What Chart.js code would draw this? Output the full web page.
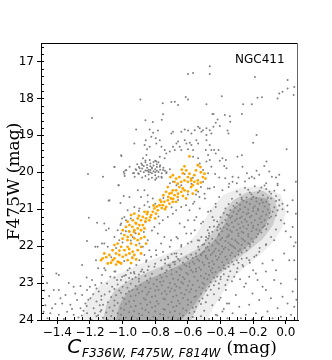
<!DOCTYPE html>
<html>
<head>
<meta charset="utf-8">
<script src="https://cdn.jsdelivr.net/npm/chart.js@4.4.1/dist/chart.umd.min.js"></script>
<style>
  html, body { margin: 0; padding: 0; background: #fff; }
  #wrap { width: 332px; height: 360px; position: relative; }
</style>
</head>
<body>
<div id="wrap"><canvas id="cmd"></canvas></div>
<script>
// ----------------------------
// Data
// ----------------------------
const clusterName = "NGC411";
const xTicks = [-1.4, -1.2, -1.0, -0.8, -0.6, -0.4, -0.2, 0.0];
const xTickLabels = ["\u22121.4", "\u22121.2", "\u22121.0", "\u22120.8", "\u22120.6", "\u22120.4", "\u22120.2", "0.0"];
const yTicks = [17, 18, 19, 20, 21, 22, 23, 24];

// highlighted stars (x, y pairs)
const orangeStars = [
  -0.590,19.57, -0.621,19.84, -0.637,19.93, -0.590,20.04, -0.539,19.81, -0.523,19.86, -0.498,20.04, -0.508,20.13,
  -0.492,20.17, -0.560,20.08, -0.600,20.13, -0.652,20.13, -0.672,20.17, -0.692,20.08, -0.707,20.13, -0.682,20.26,
  -0.662,20.31, -0.641,20.26, -0.621,20.22, -0.600,20.26, -0.580,20.22, -0.560,20.26, -0.539,20.22, -0.652,20.40,
  -0.631,20.44, -0.621,20.49, -0.672,20.49, -0.692,20.49, -0.723,20.40, -0.733,20.53, -0.713,20.58, -0.682,20.62,
  -0.641,20.53, -0.580,20.40, -0.549,20.49, -0.539,20.31, -0.570,20.58, -0.611,20.71, -0.662,20.67, -0.703,20.71,
  -0.723,20.76, -0.744,20.80, -0.764,20.80, -0.774,20.89, -0.754,20.89, -0.733,20.94, -0.713,20.85, -0.692,20.80,
  -0.672,20.80, -0.784,21.03, -0.805,20.98, -0.815,21.07, -0.795,21.12, -0.825,21.16, -0.846,21.07, -0.866,21.07,
  -0.876,21.21, -0.856,21.25, -0.836,21.30, -0.887,21.30, -0.907,21.25, -0.928,21.12, -0.948,21.16, -0.938,21.30,
  -0.917,21.39, -0.897,21.43, -0.876,21.43, -0.866,21.52, -0.887,21.57, -0.907,21.52, -0.928,21.57, -0.958,21.43,
  -0.969,21.34, -0.979,21.48, -0.999,21.57, -0.989,21.70, -0.969,21.75, -0.948,21.70, -0.928,21.79, -0.907,21.84,
  -0.887,21.79, -0.866,21.75, -0.856,21.93, -0.887,22.02, -0.917,21.97, -0.948,21.93, -0.969,22.02, -0.989,22.11,
  -1.009,22.02, -1.030,21.93, -1.050,21.97, -1.061,22.11, -1.040,22.20, -1.020,22.24, -0.999,22.29, -0.979,22.24,
  -0.958,22.20, -0.938,22.15, -0.928,22.24, -0.969,22.38, -1.009,22.47, -1.030,22.42, -1.050,22.33, -1.081,22.24,
  -1.091,22.47, -1.071,22.45, -1.112,22.20, -1.122,22.33, -1.132,22.38, -0.907,22.11, -0.917,22.36, -0.887,22.20,
  -0.948,22.46, -1.020,22.44, -1.040,22.50,
  -0.790,20.93, -0.760,20.97, -0.810,20.90, -0.740,21.00, -0.770,20.75, -0.720,20.67, -0.690,20.72, -0.750,20.62,
  -0.700,20.56, -0.660,20.58, -0.630,20.64, -0.600,20.52, -0.850,21.13, -0.830,21.22, -0.800,21.25, -0.860,21.33,
  -0.900,21.18, -0.920,21.37, -0.940,21.48, -0.960,21.60, -0.930,21.62, -0.900,21.67, -0.970,21.84, -1.000,21.80,
  -1.020,22.12, -0.960,22.08, -0.940,22.32, -1.060,22.38, -1.100,22.30, -0.520,20.00, -0.550,19.95, -0.580,20.17,
  -0.630,20.03, -0.610,19.95, -0.570,20.35, -0.520,20.28
];

// red clump
const redClump = [
  -0.83,19.94, -0.82,19.90, -0.81,19.97, -0.84,19.99, -0.80,19.92, -0.85,19.88, -0.79,19.86, -0.83,19.84,
  -0.86,19.95, -0.87,20.00, -0.82,20.03, -0.78,19.99, -0.77,19.93, -0.81,19.82, -0.85,19.80, -0.88,19.90,
  -0.84,20.06, -0.80,20.08, -0.76,20.03, -0.79,19.78, -0.83,19.76, -0.87,19.83, -0.89,19.97, -0.90,19.86,
  -0.75,19.88, -0.74,19.96, -0.78,20.12, -0.86,20.10, -0.82,20.15, -0.90,20.05, -0.81,19.72, -0.86,19.73,
  -0.77,19.81, -0.84,19.93, -0.80,20.00, -0.83,20.00, -0.85,19.96, -0.79,19.96, -0.82,19.87, -0.88,19.80,
  -0.92,19.92, -0.73,20.00, -0.76,20.15, -0.88,20.14, -0.84,20.19, -0.80,19.69, -0.78,19.73, -0.93,20.02,
  -0.71,19.92, -0.80,20.20, -0.86,19.68, -0.91,19.78
];

// bright field / giants above the main sequence turn-off
const upperField = [
  -1.187,18.53, -1.007,19.56, -1.050,19.85, -0.993,19.99, -0.983,19.95, -1.212,20.05, -1.120,20.12, -0.987,20.10,
  -1.026,20.35, -0.993,20.64, -0.928,19.22, -0.917,18.84, -0.891,18.03, -0.860,18.59, -0.815,18.64, -0.754,18.13,
  -0.760,18.58, -0.466,17.13, -0.599,17.34, -0.568,17.31, -0.466,17.34, -0.613,17.96, -0.599,18.03, -0.701,18.10,
  -0.680,18.09, -0.660,18.18, -0.486,18.16, -0.752,18.43, -0.449,18.42, -0.834,18.84, -0.813,18.93, -0.783,18.87,
  -0.824,19.04, -0.797,19.08, -0.772,19.13, -0.858,19.13, -0.865,19.26, -0.850,19.38, -0.834,19.31, -0.793,19.22,
  -0.762,19.31, -0.742,19.40, -0.732,19.49, -0.711,19.44, -0.691,19.31, -0.680,19.40, -0.670,19.22, -0.660,19.17,
  -0.650,19.31, -0.640,19.40, -0.619,19.13, -0.609,19.22, -0.588,19.20, -0.578,19.26, -0.599,19.38, -0.568,19.40,
  -0.548,19.13, -0.537,19.22, -0.517,18.90, -0.507,18.86, -0.527,18.81, -0.486,18.81, -0.486,18.99, -0.466,18.86,
  -0.456,18.95, -0.701,18.95, -0.691,18.90, -0.640,18.90, -0.619,18.84, -0.599,18.87, -0.578,18.95, -0.558,18.86,
  -0.537,18.77, -0.486,19.13, -0.466,19.26, -0.490,19.40, -0.476,19.53, -0.456,19.40, -0.568,19.58, -0.537,19.62,
  -0.527,19.76, -0.486,19.71, -0.466,19.67, -0.456,19.85, -0.476,20.03, -0.507,19.94, -0.742,19.62, -0.772,19.58,
  -0.793,19.71, -0.834,19.67, -0.854,19.53, -0.875,19.62, -0.885,19.76, -0.895,19.89, -0.916,19.94, -0.936,20.03,
  -0.957,19.85, -0.977,19.94, -0.926,20.12, -0.905,20.03, -0.772,19.85, -0.752,19.94, -0.732,20.03, -0.762,20.12,
  -0.793,20.16, -0.189,17.42, 0.011,17.50, 0.052,17.69, 0.011,17.73, -0.392,17.94, -0.173,17.98, -0.146,17.97,
  -0.040,17.87, -0.020,17.82, -0.050,18.00, 0.048,17.91, -0.261,18.16, -0.208,18.16, -0.269,18.42, -0.443,18.42,
  -0.373,18.45, -0.343,18.48, -0.418,18.57, -0.429,18.66, -0.404,18.75, -0.443,18.77, -0.340,18.63, -0.357,18.87,
  -0.351,18.95, -0.179,18.99, -0.200,19.20, 0.005,19.38, -0.439,19.40, -0.412,19.40, -0.429,19.49, -0.296,19.58,
  -0.269,19.54, -0.388,19.62, -0.404,19.69, -0.367,19.67, -0.377,19.83, -0.363,19.89, -0.265,19.85, -0.118,19.71,
  -0.132,19.83, -0.433,20.05, -0.326,20.12, -0.290,20.14, -0.238,20.03, -0.208,20.12, -0.179,19.96, -0.163,20.07,
  -0.101,19.98, -0.085,20.12, -0.060,20.14, -0.040,20.07, -0.408,20.14, -0.371,20.16, -0.224,20.16, -0.193,20.16,
  -0.300,20.30, -0.250,20.25, -0.120,20.30, -0.050,20.35, -0.350,20.40
];

// sub-giants and giants mixed with the highlighted stars
const betweenField = [
  -1.009,19.54, -1.050,19.86, -0.989,20.04, -1.081,20.76, -0.958,20.67, -0.907,20.49, -0.866,20.49, -0.887,20.67,
  -0.846,20.62, -0.815,20.71, -0.846,20.80, -0.866,20.89, -0.897,20.98, -0.836,20.94, -0.928,20.94, -0.969,21.03,
  -0.989,21.21, -1.009,21.39, -0.979,21.30, -1.030,21.57, -1.009,21.66, -1.050,21.75, -1.020,21.84, -1.101,21.57,
  -1.112,21.39, -1.153,22.02, -1.091,22.02, -1.112,21.93, -0.958,21.61, -0.938,21.75, -0.897,21.93, -0.876,22.02,
  -0.846,21.84, -0.836,22.11, -0.866,22.24, -0.897,22.38, -0.856,22.42, -0.825,22.29, -0.795,22.11, -0.764,21.93,
  -0.744,21.75, -0.784,21.66, -0.805,21.48, -0.774,21.39, -0.754,21.30, -0.723,21.21, -0.692,21.12, -0.672,21.03,
  -0.641,20.94, -0.611,20.89, -0.590,21.03, -0.560,20.80, -0.529,20.67, -0.498,20.58, -0.478,20.44, -0.560,21.30,
  -0.621,21.48, -0.519,21.39, -0.478,21.57, -0.580,21.66, -0.662,21.79, -0.703,21.84, -0.641,22.02, -0.600,21.93,
  -0.539,21.84, -0.488,21.75, -0.682,22.20, -0.723,22.29, -0.764,22.38, -0.805,22.56, -0.846,22.65, -0.887,22.69,
  -0.928,22.74, -0.969,22.65, -1.050,22.69, -1.112,22.60, -1.163,22.38, -0.691,20.26, -0.640,20.35, -0.578,20.31,
  -0.507,20.26, -0.466,20.44, -0.537,20.53, -0.496,20.71, -0.568,20.85, -0.527,20.98, -0.476,21.07, -0.548,21.21,
  -0.599,21.30, -0.650,21.39, -0.507,21.34, -0.466,21.48, -0.558,21.57, -0.609,21.66, -0.670,21.75, -0.517,21.75,
  -0.476,21.79, -0.578,21.88, -0.640,21.97, -0.711,22.02, -0.537,22.02, -0.752,22.15, -0.793,22.24, -0.854,22.38,
  -0.916,22.51, -0.957,22.60, -0.670,22.20, -0.439,20.40, -0.408,20.67, -0.429,20.94, -0.449,21.21, -0.418,21.48,
  -0.388,20.49, -0.347,20.31, -0.326,20.26, -1.023,20.35, -1.085,20.77, -1.013,20.83, -1.207,21.23, -1.156,21.37,
  -1.003,21.25, -1.013,21.43, -1.085,21.52, -1.218,21.86, -1.167,22.02, -1.126,21.93, -1.248,22.51, -0.620,20.05,
  -0.570,20.15, -0.670,20.35, -0.710,20.30, -0.600,20.60, -0.750,20.70, -0.800,20.85, -0.780,21.20, -0.900,21.05,
  -0.950,21.25, -0.860,21.35, -0.980,21.60, -0.920,21.65, -0.950,21.85, -1.000,21.90, -1.040,22.05, -0.990,22.40,
  -1.070,22.30, -0.940,22.30, -0.870,21.62, -0.820,21.58, -0.700,20.95, -0.660,20.75, -0.550,20.60, -0.520,20.40
];

// faint field stars left of the main sequence
const leftField = [
  -1.406,22.74, -1.391,22.78, -1.463,23.00, -1.422,23.19, -1.391,23.19, -1.330,23.00, -1.300,23.10, -1.258,23.08,
  -1.290,23.28, -1.350,23.32, -1.381,23.41, -1.412,23.57, -1.432,23.68, -1.473,23.60, -1.484,23.78, -1.443,23.82,
  -1.391,23.86, -1.340,23.78, -1.320,23.59, -1.279,23.46, -1.248,23.32, -1.218,23.19, -1.187,22.92, -1.167,23.05,
  -1.146,23.23, -1.197,23.41, -1.228,23.55, -1.258,23.68, -1.300,23.86, -1.218,23.82, -1.177,23.68, -1.136,23.77,
  -1.494,22.78, -1.126,22.78, -1.105,22.65, -1.075,22.83, -1.044,22.69, -1.095,23.01, -1.064,23.10, -1.034,22.92,
  -1.003,22.83, -1.460,23.95, -1.360,23.97, -1.270,23.93, -1.200,23.96, -1.160,23.90, -1.240,23.75, -1.310,23.70,
  -1.450,23.35, -1.480,23.20, -1.370,23.55, -1.200,23.10, -1.160,23.50, -1.130,23.35, -1.150,22.60, -1.220,22.85
];

// faint field stars right of the main sequence
const rightField = [
  -0.296,22.60, -0.265,22.51, -0.224,22.38, -0.193,22.29, -0.163,22.15, -0.122,21.97, -0.071,21.84, 0.021,22.38,
  0.052,22.38, -0.009,21.39, 0.042,21.48, 0.011,21.07, 0.062,21.12, -0.020,20.85, 0.042,20.76, -0.009,20.49,
  0.062,20.26, -0.050,20.31, -0.060,22.65, -0.030,23.01, -0.071,22.92, -0.245,23.01, -0.255,23.10, -0.142,23.10,
  -0.122,23.19, -0.204,23.28, -0.306,23.32, -0.367,23.19, -0.408,23.46, -0.347,23.55, -0.285,23.64, -0.224,23.59,
  -0.163,23.46, -0.091,23.41, -0.020,23.37, 0.042,23.23, 0.011,23.55, 0.052,23.64, -0.050,23.68, -0.112,23.77,
  -0.183,23.82, -0.245,23.86, -0.326,23.82, -0.388,23.77, -0.429,23.86, 0.032,23.86, -0.030,23.91, -0.142,23.91,
  -0.275,23.95, -0.357,23.95, -0.081,23.95, -0.204,23.98, -0.316,22.83, -0.183,22.74, -0.122,22.69, -0.142,22.47,
  -0.081,22.38, -0.398,22.83, -0.357,22.92, -0.173,22.92, -0.224,22.83, 0.060,22.90, 0.065,23.45, 0.050,22.00,
  0.030,21.75, -0.010,22.20, 0.060,21.90
];

// main sequence, upper part (20.4 - 21.7 mag)
const msUpper = [
  -0.25,20.42, -0.19,20.38, -0.12,20.45, -0.16,20.50, -0.22,20.55, -0.28,20.60, -0.09,20.58, -0.14,20.62,
  -0.20,20.66, -0.24,20.68, -0.11,20.69, -0.17,20.55, -0.30,20.52, -0.07,20.50, -0.13,20.36, -0.23,20.47,
  -0.18,20.70, -0.27,20.69, -0.06,20.64, -0.15,20.41, -0.21,20.60, -0.10,20.53,
  -0.33,20.72, -0.27,20.74, -0.21,20.73, -0.15,20.75, -0.09,20.71, -0.06,20.78, -0.12,20.80, -0.18,20.79,
  -0.24,20.81, -0.30,20.83, -0.35,20.86, -0.28,20.88, -0.22,20.86, -0.16,20.85, -0.10,20.87, -0.04,20.90,
  -0.07,20.95, -0.13,20.93, -0.19,20.92, -0.25,20.94, -0.31,20.96, -0.37,20.98, -0.34,21.02, -0.28,21.00,
  -0.23,21.01, -0.17,20.99, -0.11,21.01, -0.05,21.03, -0.08,21.07, -0.14,21.06, -0.20,21.05, -0.26,21.08,
  -0.32,21.07, -0.38,21.10, -0.36,21.15, -0.30,21.13, -0.24,21.14, -0.18,21.12, -0.12,21.15, -0.06,21.17,
  -0.09,21.20, -0.15,21.19, -0.21,21.18, -0.27,21.20, -0.33,21.19, -0.20,20.97, -0.14,20.82, -0.26,20.77,
  -0.32,20.91, -0.10,21.10, -0.23,21.10, -0.17,21.03, -0.29,21.05, -0.35,21.17,
  -0.40,21.22, -0.34,21.23, -0.28,21.24, -0.22,21.22, -0.16,21.25, -0.10,21.24, -0.13,21.29, -0.19,21.30,
  -0.25,21.28, -0.31,21.31, -0.37,21.29, -0.42,21.33, -0.39,21.37, -0.33,21.36, -0.27,21.35, -0.21,21.37,
  -0.15,21.35, -0.11,21.40, -0.17,21.42, -0.23,21.43, -0.29,21.41, -0.35,21.44, -0.41,21.42, -0.44,21.47,
  -0.38,21.49, -0.32,21.48, -0.26,21.47, -0.20,21.50, -0.14,21.49, -0.12,21.54, -0.18,21.55, -0.24,21.53,
  -0.30,21.56, -0.36,21.54, -0.42,21.57, -0.45,21.61, -0.39,21.60, -0.33,21.62, -0.27,21.61, -0.21,21.60,
  -0.15,21.63, -0.17,21.67, -0.23,21.68, -0.29,21.66, -0.35,21.69, -0.41,21.67, -0.30,21.26, -0.24,21.33,
  -0.36,21.40, -0.20,21.45, -0.28,21.51, -0.34,21.58, -0.26,21.64, -0.16,21.58, -0.40,21.52, -0.13,21.45
];

// main sequence, middle part (21.7 - 22.7 mag)
const msMiddle = [
  -0.47,21.72, -0.41,21.71, -0.35,21.73, -0.29,21.72, -0.23,21.74, -0.18,21.76, -0.21,21.80, -0.27,21.79,
  -0.33,21.81, -0.39,21.78, -0.45,21.80, -0.49,21.84, -0.43,21.85, -0.37,21.86, -0.31,21.84, -0.25,21.87,
  -0.20,21.88, -0.23,21.92, -0.29,21.93, -0.35,21.91, -0.41,21.94, -0.47,21.92, -0.51,21.97, -0.45,21.98,
  -0.39,22.00, -0.33,21.99, -0.27,21.97, -0.22,22.01, -0.25,22.05, -0.31,22.06, -0.37,22.04, -0.43,22.07,
  -0.49,22.05, -0.53,22.10, -0.47,22.11, -0.41,22.12, -0.35,22.10, -0.29,22.13, -0.24,22.12, -0.27,22.17,
  -0.33,22.18, -0.39,22.16, -0.45,22.19, -0.51,22.17, -0.55,22.20, -0.36,21.76, -0.30,21.89, -0.42,21.90,
  -0.38,22.08, -0.32,22.02, -0.44,22.14, -0.26,21.83, -0.48,22.02, -0.34,21.96, -0.40,21.83, -0.28,22.09,
  -0.50,22.14, -0.22,21.95,
  -0.70,22.22, -0.64,22.21, -0.58,22.23, -0.52,22.22, -0.46,22.24, -0.40,22.22, -0.34,22.25, -0.29,22.23,
  -0.31,22.28, -0.37,22.29, -0.43,22.27, -0.49,22.30, -0.55,22.28, -0.61,22.30, -0.67,22.29, -0.72,22.33,
  -0.66,22.35, -0.60,22.34, -0.54,22.36, -0.48,22.35, -0.42,22.37, -0.36,22.36, -0.30,22.38, -0.33,22.42,
  -0.39,22.43, -0.45,22.41, -0.51,22.44, -0.57,22.42, -0.63,22.45, -0.69,22.43, -0.74,22.47, -0.68,22.49,
  -0.62,22.50, -0.56,22.48, -0.50,22.51, -0.44,22.49, -0.38,22.52, -0.32,22.50, -0.35,22.56, -0.41,22.57,
  -0.47,22.55, -0.53,22.58, -0.59,22.56, -0.65,22.59, -0.71,22.57, -0.76,22.62, -0.70,22.64, -0.64,22.63,
  -0.58,22.65, -0.52,22.64, -0.46,22.66, -0.40,22.65, -0.34,22.68, -0.43,22.70, -0.55,22.69, -0.67,22.70,
  -0.49,22.26, -0.57,22.32, -0.41,22.31, -0.65,22.39, -0.53,22.40, -0.47,22.46, -0.59,22.47, -0.35,22.46,
  -0.71,22.52, -0.61,22.54, -0.45,22.60, -0.55,22.61, -0.37,22.61, -0.73,22.66, -0.27,22.34, -0.29,22.45
];

// main sequence, lower part (22.7 - 24 mag)
const msLower = [
  -0.95,22.73, -0.87,22.71, -0.82,22.75, -0.74,22.72, -0.70,22.76, -0.61,22.73, -0.57,22.70, -0.49,22.75,
  -0.45,22.72, -0.38,22.76, -0.99,22.80, -0.90,22.77, -0.86,22.81, -0.77,22.78, -0.73,22.82, -0.65,22.79,
  -0.60,22.76, -0.52,22.81, -0.47,22.78, -0.42,22.82, -0.96,22.86, -0.92,22.84, -0.83,22.87, -0.76,22.85,
  -0.69,22.88, -0.63,22.84, -0.56,22.83, -0.50,22.87, -0.44,22.85, -0.40,22.90, -1.01,22.92, -0.94,22.89,
  -0.85,22.93, -0.79,22.91, -0.75,22.95, -0.66,22.91, -0.62,22.89, -0.54,22.93, -0.48,22.90, -0.43,22.95,
  -0.98,22.98, -0.90,22.96, -0.84,22.99, -0.77,22.97, -0.71,23.00, -0.64,22.97, -0.59,22.95, -0.51,22.99,
  -0.46,22.97, -0.41,23.01, -1.03,23.04, -0.95,23.02, -0.89,23.05, -0.81,23.03, -0.76,23.06, -0.68,23.03,
  -0.63,23.01, -0.57,23.05, -0.50,23.03, -0.44,23.06, -1.00,23.10, -0.92,23.08, -0.86,23.11, -0.79,23.09,
  -0.72,23.12, -0.67,23.09, -0.60,23.07, -0.53,23.11, -0.47,23.09, -1.05,23.16, -0.97,23.13, -0.91,23.17,
  -0.83,23.15, -0.78,23.18, -0.70,23.15, -0.65,23.13, -0.58,23.17, -0.51,23.14, -0.46,23.18, -1.02,23.20,
  -0.94,23.19, -0.88,23.22, -0.80,23.20, -0.74,23.22, -0.68,23.20, -0.61,23.19, -0.55,23.21, -0.49,23.20,
  -1.08,23.23, -1.01,23.26, -0.96,23.22, -0.90,23.27, -0.84,23.24, -0.76,23.28, -0.71,23.23, -0.64,23.27,
  -0.59,23.24, -0.52,23.29, -1.11,23.31, -1.04,23.33, -0.98,23.29, -0.92,23.34, -0.85,23.31, -0.80,23.35,
  -0.73,23.30, -0.67,23.34, -0.62,23.31, -0.55,23.36, -0.48,23.33, -1.07,23.38, -1.00,23.40, -0.95,23.36,
  -0.87,23.41, -0.82,23.38, -0.75,23.42, -0.69,23.37, -0.63,23.41, -0.56,23.38, -0.51,23.42, -1.13,23.45,
  -1.05,23.47, -0.99,23.43, -0.93,23.48, -0.86,23.45, -0.79,23.49, -0.74,23.44, -0.66,23.48, -0.60,23.45,
  -0.53,23.49, -1.09,23.52, -1.03,23.54, -0.96,23.50, -0.89,23.55, -0.83,23.52, -0.78,23.56, -0.70,23.51,
  -0.65,23.55, -0.58,23.52, -0.52,23.57, -1.12,23.59, -1.05,23.61, -0.98,23.57, -0.92,23.62, -0.85,23.59,
  -0.80,23.63, -0.72,23.58, -0.67,23.62, -0.60,23.59, -0.55,23.64, -1.08,23.66, -1.01,23.68, -0.95,23.64,
  -0.88,23.69, -0.82,23.66, -0.75,23.70, -0.69,23.65, -0.63,23.69, -0.57,23.67, -1.13,23.73, -1.06,23.75,
  -0.99,23.72, -0.93,23.76, -0.86,23.73, -0.80,23.77, -0.74,23.72, -0.68,23.76, -0.61,23.74, -0.56,23.78,
  -1.10,23.80, -1.03,23.82, -0.96,23.79, -0.90,23.83, -0.84,23.80, -0.77,23.84, -0.71,23.79, -0.65,23.83,
  -0.59,23.81, -1.15,23.87, -1.07,23.89, -1.01,23.86, -0.94,23.90, -0.88,23.87, -0.81,23.91, -0.75,23.86,
  -0.69,23.90, -0.63,23.88, -0.57,23.92, -1.12,23.94, -1.05,23.96, -0.98,23.93, -0.91,23.97, -0.85,23.94,
  -0.79,23.98, -0.72,23.93, -0.66,23.97, -0.60,23.95, -1.09,24.00, -1.02,23.99, -0.95,24.01, -0.83,24.00,
  -0.70,24.01
];

// looser stars around the main sequence
const msEnvelope = [
  -1.18,23.30, -1.22,23.62, -1.17,23.82, -1.25,23.88, -1.19,24.00, -1.14,23.60, -1.21,23.45, -1.16,23.15,
  -1.13,23.00, -0.50,23.75, -0.45,23.60, -0.42,23.88, -0.38,23.70, -0.47,23.97, -0.52,23.90, -0.40,23.40,
  -0.44,23.30, -0.36,23.55, -0.49,23.52, -0.41,23.15, -0.37,23.05, -0.98,22.78, -0.93,22.70, -0.88,22.63,
  -0.84,22.55, -0.80,22.48, -0.76,22.60, -0.72,22.52, -0.68,22.42, -0.74,22.36, -0.90,22.88, -1.05,22.85,
  -0.35,22.82, -0.30,22.70, -0.26,22.55, -0.22,22.45, -0.33,22.95, -0.28,22.90, -0.20,22.65, -0.24,22.32,
  -0.18,22.25, -0.38,22.60, -0.50,21.95, -0.47,21.65, -0.44,21.30, -0.46,21.05, -0.53,21.85, -0.43,20.85,
  -0.52,22.25, -0.04,20.75, -0.02,21.00, -0.03,21.30, -0.06,21.55, -0.09,21.75, 0.00,21.60, -0.12,21.95,
  -0.16,22.05, 0.01,20.90
];

// outlines of the crowded main-sequence area: wide halo, outer and inner core
const msHaloX = [-1.25, -1.22, -1.15, -1.05, -0.90, -0.75, -0.62, -0.55, -0.50, -0.45, -0.38, -0.28, -0.15,
                 -0.03, 0.00, -0.02, -0.08, -0.16, -0.26, -0.34, -0.40, -0.45, -0.48];
const msHaloY = [24.0, 23.5, 23.1, 22.8, 22.5, 22.25, 22.0, 21.7, 21.3, 20.95, 20.6, 20.42, 20.38,
                 20.6, 21.05, 21.5, 21.9, 22.25, 22.6, 22.95, 23.35, 23.7, 24.0];
const msOuterX = [-1.12, -1.10, -1.05, -0.95, -0.80, -0.66, -0.55, -0.48, -0.42, -0.38, -0.32, -0.24, -0.14,
                  -0.07, -0.05, -0.08, -0.14, -0.22, -0.31, -0.40, -0.46, -0.52, -0.58];
const msOuterY = [24.0, 23.6, 23.2, 22.9, 22.62, 22.35, 22.1, 21.8, 21.45, 21.05, 20.75, 20.55, 20.5,
                  20.7, 21.05, 21.45, 21.8, 22.1, 22.4, 22.75, 23.05, 23.45, 24.0];
const msInnerX = [-1.04, -1.02, -0.97, -0.88, -0.75, -0.62, -0.51, -0.44, -0.38, -0.34, -0.28, -0.20,
                  -0.11, -0.09, -0.12, -0.18, -0.26, -0.35, -0.44, -0.50, -0.56, -0.64];
const msInnerY = [24.0, 23.6, 23.25, 22.98, 22.72, 22.45, 22.15, 21.85, 21.45, 21.05, 20.8, 20.65,
                  20.72, 21.05, 21.4, 21.78, 22.1, 22.45, 22.85, 23.2, 23.6, 24.0];

// ----------------------------
// Helpers
// ----------------------------
function toPoints(flat) {
  const out = [];
  for (let i = 0; i < flat.length; i += 2) out.push({ x: flat[i], y: flat[i + 1] });
  return out;
}
function toOutline(xs, ys) {
  return xs.map((x, i) => ({ x: x, y: ys[i] }));
}
function areaSet(label, xs, ys, alpha, order) {
  return {
    type: "line",
    label: label,
    data: toOutline(xs, ys),
    showLine: true,
    fill: "shape",
    backgroundColor: "rgba(128,128,128," + alpha + ")",
    borderWidth: 0,
    pointRadius: 0,
    tension: 0,
    order: order
  };
}

const grayStars = [].concat(
  toPoints(upperField), toPoints(redClump), toPoints(betweenField), toPoints(leftField),
  toPoints(rightField), toPoints(msUpper), toPoints(msMiddle), toPoints(msLower), toPoints(msEnvelope)
);

// ----------------------------
// Extra drawing: minor ticks, frame, axis titles, label
// ----------------------------
const decorations = {
  id: "decorations",
  afterDraw(chart) {
    const { ctx, chartArea: a, scales: { x, y } } = chart;
    ctx.save();
    ctx.strokeStyle = "#000";
    ctx.lineWidth = 1;

    // minor ticks pointing inwards
    ctx.beginPath();
    for (let i = -30; i <= 1; i++) {
      const px = Math.round(x.getPixelForValue(i * 0.05)) + 0.5;
      ctx.moveTo(px, a.bottom);
      ctx.lineTo(px, a.bottom - 3);
    }
    for (let i = 83; i <= 120; i++) {
      const py = Math.round(y.getPixelForValue(i * 0.2)) + 0.5;
      ctx.moveTo(a.left, py);
      ctx.lineTo(a.left + 3, py);
    }
    ctx.stroke();

    // top and right spines
    ctx.beginPath();
    ctx.moveTo(a.left, a.top + 0.5);
    ctx.lineTo(a.right, a.top + 0.5);
    ctx.stroke();
    ctx.strokeStyle = "#666";
    ctx.beginPath();
    ctx.moveTo(a.right - 0.5, a.top);
    ctx.lineTo(a.right - 0.5, a.bottom);
    ctx.stroke();

    ctx.fillStyle = "#000";

    // cluster name
    ctx.font = '12px "DejaVu Sans"';
    ctx.textAlign = "left";
    ctx.textBaseline = "alphabetic";
    ctx.fillText(clusterName, 235, 63);

    // y title
    ctx.save();
    ctx.translate(19, (a.top + a.bottom) / 2);
    ctx.rotate(-Math.PI / 2);
    ctx.font = '17px "DejaVu Serif"';
    ctx.textAlign = "center";
    ctx.fillText("F475W (mag)", 0, 0);
    ctx.restore();

    // x title: C with subscript, then (mag)
    const fontC = 'italic 20px "DejaVu Sans"';
    const fontSub = 'italic 12px "DejaVu Sans"';
    const fontMag = '17px "DejaVu Serif"';
    const sub = "F336W, F475W, F814W";
    ctx.font = fontC; const wC = ctx.measureText("C").width;
    ctx.font = fontSub; const wSub = ctx.measureText(sub).width;
    ctx.font = fontMag; const wMag = ctx.measureText("(mag)").width;
    const gap = 6;
    const total = wC + 1 + wSub + gap + wMag;
    let cx = 172 - total / 2;
    const base = 353;
    ctx.textAlign = "left";
    ctx.font = fontC; ctx.fillText("C", cx, base);
    cx += wC + 1;
    ctx.font = fontSub; ctx.fillText(sub, cx, base + 4);
    cx += wSub + gap;
    ctx.font = fontMag; ctx.fillText("(mag)", cx, base);
    ctx.restore();
  }
};

// ----------------------------
// Chart
// ----------------------------
new Chart(document.getElementById("cmd"), {
  type: "scatter",
  data: {
    datasets: [
      {
        label: "highlighted",
        data: toPoints(orangeStars),
        backgroundColor: "#ffa500",
        borderWidth: 0,
        pointRadius: 1.4,
        order: 1
      },
      {
        label: "all stars",
        data: grayStars,
        backgroundColor: "#808080",
        borderWidth: 0,
        pointRadius: 1.0,
        order: 2
      },
      areaSet("ms core", msInnerX, msInnerY, 0.45, 3),
      areaSet("ms outer", msOuterX, msOuterY, 0.3, 4),
      areaSet("ms halo", msHaloX, msHaloY, 0.14, 5)
    ]
  },
  options: {
    responsive: true,
    maintainAspectRatio: false,
    animation: false,
    events: [],
    layout: { padding: { top: 43, right: 34, left: 0, bottom: 0 } },
    plugins: { legend: { display: false }, tooltip: { enabled: false } },
    scales: {
      x: {
        type: "linear",
        min: -1.5,
        max: 0.075,
        afterBuildTicks: (s) => { s.ticks = xTicks.map((v) => ({ value: v })); },
        afterFit: (s) => { s.height = 40; },
        ticks: {
          autoSkip: false,
          maxRotation: 0,
          padding: 2,
          color: "#000",
          font: { family: "DejaVu Sans", size: 12 },
          callback: (v) => {
            const i = xTicks.findIndex((t) => Math.abs(t - v) < 1e-6);
            return i >= 0 ? xTickLabels[i] : "";
          }
        },
        grid: { drawOnChartArea: false, drawTicks: true, tickLength: 4, color: "#000" },
        border: { display: true, color: "#000", width: 1 }
      },
      y: {
        type: "linear",
        reverse: true,
        min: 16.5,
        max: 24,
        afterBuildTicks: (s) => { s.ticks = yTicks.map((v) => ({ value: v })); },
        afterFit: (s) => { s.width = 41; },
        ticks: {
          autoSkip: false,
          padding: 3,
          color: "#000",
          font: { family: "DejaVu Sans", size: 12 },
          callback: (v) => String(v)
        },
        grid: { drawOnChartArea: false, drawTicks: true, tickLength: 4, color: "#000" },
        border: { display: true, color: "#000", width: 1 }
      }
    }
  },
  plugins: [decorations]
});
</script>
</body>
</html>
